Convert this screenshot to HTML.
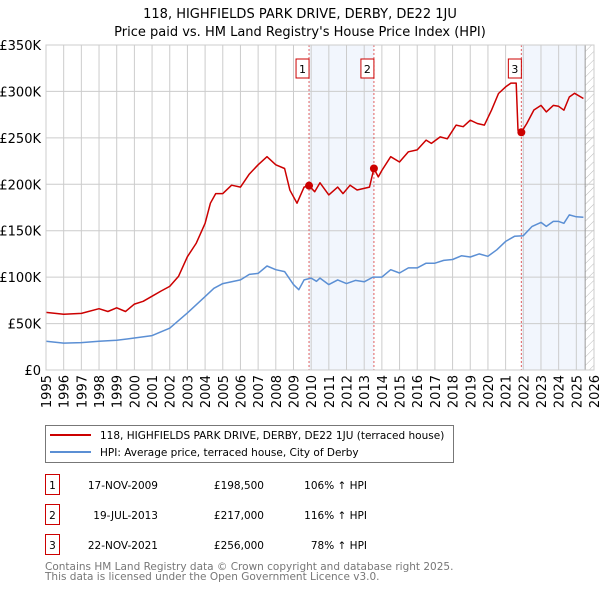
<!DOCTYPE html>
<html><head><meta charset="utf-8">
<style>
body{margin:0;background:#fff;font-family:"Liberation Sans","DejaVu Sans",sans-serif;}
#wrap{position:relative;width:600px;height:590px;overflow:hidden;}
svg text{font-family:"DejaVu Sans","Liberation Sans",sans-serif;}
</style></head>
<body><div id="wrap">
<svg id="chart" width="600" height="590"></svg>
</div>
<script>
const yTicks=[0,50,100,150,200,250,300,350];
const yTickLabels=["£0","£50K","£100K","£150K","£200K","£250K","£300K","£350K"];
const xYears=[1995,1996,1997,1998,1999,2000,2001,2002,2003,2004,2005,2006,2007,2008,2009,2010,2011,2012,2013,2014,2015,2016,2017,2018,2019,2020,2021,2022,2023,2024,2025,2026];
const hpiT=[1995,1996,1997,1998,1999,2000,2001,2002,2003,2004,2004.5,2005,2006,2006.5,2007,2007.5,2008,2008.5,2009,2009.3,2009.6,2010,2010.3,2010.5,2011,2011.5,2012,2012.5,2013,2013.5,2014,2014.5,2015,2015.5,2016,2016.5,2017,2017.5,2018,2018.5,2019,2019.5,2020,2020.5,2021,2021.5,2022,2022.5,2023,2023.3,2023.7,2024,2024.3,2024.6,2025,2025.4];
const hpiV=[31,29,29.5,31,32,34.5,37,45,61.5,79,88,93,97,103,104,112,108,106,92,86.5,97,99,95.5,99,92,97,93,96.5,95,100,100,108,104.5,110,110,115,115,118,119,123,121.7,125,122.4,129.5,138.5,144,144.6,154.6,159,154.6,160,160,158,167,165,164.6];
const priceT=[1995,1996,1997,1998,1998.5,1999,1999.5,2000,2000.5,2001,2001.5,2002,2002.5,2003,2003.5,2004,2004.3,2004.6,2005,2005.5,2006,2006.5,2007,2007.5,2008,2008.5,2008.8,2009.2,2009.6,2009.88,2010.2,2010.5,2011,2011.5,2011.8,2012.2,2012.6,2013.3,2013.55,2013.8,2014,2014.5,2015,2015.5,2016,2016.5,2016.8,2017.3,2017.7,2018.2,2018.6,2019,2019.4,2019.8,2020.2,2020.6,2021,2021.3,2021.6,2021.7,2021.89,2022.2,2022.6,2023,2023.3,2023.7,2024,2024.3,2024.6,2024.9,2025.4];
const priceV=[62,60,61,66,63,67,63,71,74,79.5,85,90,101,122,136.7,158,179.6,190,190,199,197,211,221,229.7,221,217,193.6,179.6,197,198.5,192,201.6,188.6,197,190,199,193.8,197,217,208,215,229.7,224,235,237,247.6,244,251,249,263.7,262,269,265.5,263.7,279.8,297.8,304.9,309,309,258,256,265.5,280,285,278,285,284,279.8,294,298,292.4];
const saleT=[2009.88,2013.55,2021.89];
const saleV=[198.5,217,256];
const saleLabels=["1","2","3"];
const dataEnd=2025.5;

const NS="http://www.w3.org/2000/svg";
const svg=document.getElementById('chart');
const L=46,R=594,T=45,B=370;
const X=t=>L+(t-1995)/(2026-1995)*(R-L);
const Y=v=>B-v/350*(B-T);
function mk(tag,attrs,parent){const e=document.createElementNS(NS,tag);for(const k in attrs)e.setAttribute(k,attrs[k]);(parent||svg).appendChild(e);return e;}

let t1=mk('text',{x:300,y:18,'text-anchor':'middle','font-size':13,fill:'#000'});t1.textContent="118, HIGHFIELDS PARK DRIVE, DERBY, DE22 1JU";


let t2=mk('text',{x:300,y:36,'text-anchor':'middle','font-size':13,fill:'#000'});t2.textContent="Price paid vs. HM Land Registry's House Price Index (HPI)";



let s1=mk('rect',{x:X(saleT[0]),y:T,width:X(saleT[1])-X(saleT[0]),height:B-T,fill:'#f2f6fd'});


let s2=mk('rect',{x:X(saleT[2]),y:T,width:X(dataEnd)-X(saleT[2]),height:B-T,fill:'#f2f6fd'});


const defs=mk('defs',{});
const pat=mk('pattern',{id:'hatch',width:6,height:6,patternUnits:'userSpaceOnUse',patternTransform:'rotate(45)'},defs);
mk('line',{x1:0,y1:0,x2:0,y2:6,stroke:'#bbb','stroke-width':1},pat);
let hz=mk('rect',{x:X(dataEnd),y:T,width:R-X(dataEnd),height:B-T,fill:'url(#hatch)'});



const grid=mk('g',{});


yTicks.forEach((v,i)=>{
  mk('line',{x1:L,x2:R,y1:Y(v),y2:Y(v),stroke:'#ccc','stroke-width':1},grid);
  const tx=mk('text',{x:L-5,y:Y(v)+5,'text-anchor':'end','font-size':13,fill:'#000'});
  tx.textContent=yTickLabels[i];
  
  
});
xYears.forEach(yr=>{
  mk('line',{x1:X(yr),x2:X(yr),y1:T,y2:B,stroke:'#ccc','stroke-width':1},grid);
  const tx=mk('text',{x:0,y:0,'text-anchor':'end','font-size':13,fill:'#000',transform:`translate(${X(yr)+5},${B+5}) rotate(-90)`});
  tx.textContent=yr;
  
  
});
mk('line',{x1:X(dataEnd),x2:X(dataEnd),y1:T,y2:B,stroke:'#999','stroke-width':1});

saleT.forEach((t,i)=>{
  const ln=mk('line',{x1:X(t),x2:X(t),y1:T,y2:B,stroke:'#e06060','stroke-width':1,'stroke-dasharray':'2,2'});
  
  
});

function path(ts,vs,color,name){
  let d=ts.map((t,i)=>(i?'L':'M')+X(t).toFixed(1)+','+Y(vs[i]).toFixed(1)).join('');
  const p=mk('path',{d,fill:'none',stroke:color,'stroke-width':1.5,'stroke-linejoin':'round'});
  
  
}
path(hpiT,hpiV,'#5b8fd4','hpi-line');
path(priceT,priceV,'#cc0000','price-line');

saleT.forEach((t,i)=>{
  const c=mk('circle',{cx:X(t),cy:Y(saleV[i]),r:4,fill:'#cc0000'});
  
  
  const g=mk('g',{});
  
  
  mk('rect',{x:X(t)-13,y:59,width:13,height:19,fill:'#fff',stroke:'#cc0000','stroke-width':1},g);
  const tx=mk('text',{x:X(t)-6.5,y:73,'text-anchor':'middle','font-size':11,fill:'#000'},g);
  tx.textContent=saleLabels[i];
});
mk('rect',{x:L,y:T,width:R-L,height:B-T,fill:'none',stroke:'#ccc'});

const lg=mk('g',{});


mk('rect',{x:45.5,y:425.5,width:408,height:37,fill:'#fff',stroke:'#777'},lg);
mk('line',{x1:50,x2:91,y1:435,y2:435,stroke:'#cc0000','stroke-width':2},lg);
mk('line',{x1:50,x2:91,y1:452,y2:452,stroke:'#5b8fd4','stroke-width':2},lg);
let l1=mk('text',{x:100,y:439,'font-size':10.5,fill:'#000'},lg);l1.textContent="118, HIGHFIELDS PARK DRIVE, DERBY, DE22 1JU (terraced house)";
let l2=mk('text',{x:100,y:456,'font-size':10.5,fill:'#000'},lg);l2.textContent="HPI: Average price, terraced house, City of Derby";

const rows=[["1","17-NOV-2009","£198,500","106% ↑ HPI"],["2","19-JUL-2013","£217,000","116% ↑ HPI"],["3","22-NOV-2021","£256,000","78% ↑ HPI"]];
rows.forEach((r,i)=>{
  const y=483+i*30;
  const g=mk('g',{});
  
  
  mk('rect',{x:45.5,y:y-8.5,width:14,height:20,fill:'none',stroke:'#cc0000'},g);
  let a=mk('text',{x:52.5,y:y+6,'text-anchor':'middle','font-size':10.5},g);a.textContent=r[0];
  let b=mk('text',{x:158,y:y+6,'text-anchor':'end','font-size':10.5},g);b.textContent=r[1];
  let c=mk('text',{x:264,y:y+6,'text-anchor':'end','font-size':10.5},g);c.textContent=r[2];
  let d=mk('text',{x:367,y:y+6,'text-anchor':'end','font-size':10.5},g);d.textContent=r[3];
});
let f1=mk('text',{x:45,y:570,'font-size':10.5,fill:'#777'});f1.textContent="Contains HM Land Registry data © Crown copyright and database right 2025.";


let f2=mk('text',{x:45,y:580,'font-size':10.5,fill:'#777'});f2.textContent="This data is licensed under the Open Government Licence v3.0.";


</script>
</body></html>
